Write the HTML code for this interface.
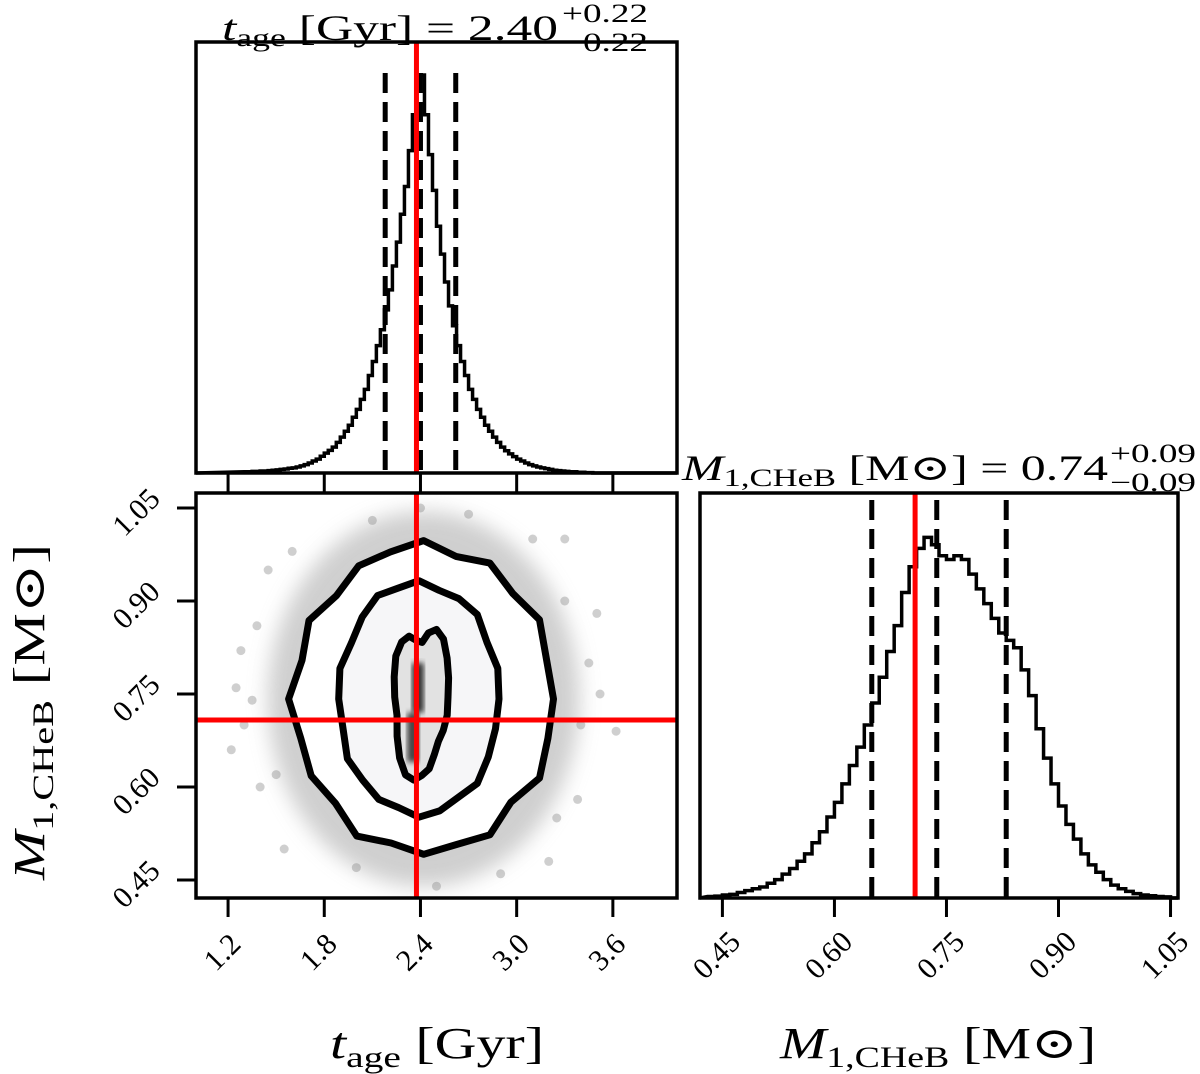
<!DOCTYPE html>
<html><head><meta charset="utf-8">
<style>
html,body{margin:0;padding:0;background:#fff;}
svg{display:block;font-family:"Liberation Serif","DejaVu Serif",serif;}
</style></head>
<body>
<svg id="fig" width="1200" height="1074" viewBox="0 0 1200 1074" xmlns="http://www.w3.org/2000/svg">
<defs>
<filter id="blur" x="-20%" y="-20%" width="140%" height="140%"><feGaussianBlur stdDeviation="10"/></filter>
<filter id="blur2"><feGaussianBlur stdDeviation="3"/></filter>
<clipPath id="clipL"><rect x="196" y="493" width="481" height="405"/></clipPath>
</defs>
<g id="root"></g>
</svg>
<script>
// ---- data ----
const ageBinStart = 1.30, ageBinWidth = 0.025;
const ageHist = [0.003,0.003,0.004,0.004,0.005,0.005,0.006,0.007,0.008,0.009,0.01,0.012,0.013,0.015,0.018,0.021,0.025,0.03,0.035,0.042,0.05,0.057,0.065,0.077,0.09,0.105,0.12,0.14,0.16,0.185,0.21,0.245,0.28,0.32,0.36,0.41,0.46,0.52,0.58,0.65,0.72,0.81,0.90,0.97,1.0,0.90,0.80,0.71,0.62,0.55,0.48,0.42,0.37,0.32,0.28,0.245,0.21,0.185,0.16,0.14,0.12,0.105,0.09,0.077,0.065,0.056,0.048,0.041,0.035,0.03,0.025,0.021,0.018,0.015,0.013,0.011,0.009,0.007,0.006,0.005,0.004,0.003,0.003,0.002,0.002,0.001,0.001];
const massBinStart = 0.43, massBinWidth = 0.01;
const massHist = [0.004,0.005,0.008,0.01,0.015,0.02,0.025,0.03,0.04,0.05,0.065,0.08,0.10,0.12,0.15,0.18,0.22,0.26,0.31,0.36,0.41,0.47,0.53,0.60,0.67,0.74,0.83,0.90,0.95,0.98,0.96,0.93,0.92,0.93,0.92,0.88,0.84,0.80,0.76,0.72,0.70,0.68,0.62,0.55,0.46,0.38,0.31,0.25,0.20,0.16,0.12,0.09,0.07,0.05,0.035,0.025,0.018,0.012,0.008,0.006,0.004,0.003];
const ageQuantiles = [2.18, 2.40, 2.62];
const massQuantiles = [0.65, 0.737, 0.83];
const truthAge = 2.375, truthMass = 0.708;
const ageTicks = [1.2, 1.8, 2.4, 3.0, 3.6];
const ageTickLabels = ["1.2","1.8","2.4","3.0","3.6"];
const massTicks = [0.45, 0.60, 0.75, 0.90, 1.05];
const massTickLabels = ["0.45","0.60","0.75","0.90","1.05"];
const contourCx = [2.42, 2.39, 2.41];
const contourCy = [0.742, 0.742, 0.745];
const contourRx = [0.81, 0.50, 0.18];
const contourRy = [0.248, 0.187, 0.126];
const wobbleOuter = [1.0,0.98,1.03,0.97,1.02,0.96,1.03,0.99,1.0,0.95,1.02,0.97,1.04,0.98,1.0,0.96,1.03,0.97,1.01,0.98,1.02,0.95,1.03,0.99];
const wobbleMid = [1.0,1.02,0.98,1.03,1.0,0.97,1.02,0.99,1.03,1.0,0.97,1.02,1.0,0.98,1.03,0.99,1.0,0.97,1.02,1.0,0.98,1.03,1.0,0.99];
const wobbleInner = [0.9,0.95,1.0,1.05,1.0,0.85,0.7,0.75,0.9,1.0,1.05,1.0,0.95,0.9,1.0,1.1,1.15,1.1,1.0,0.95,0.85,0.8,0.85,0.9];
const outX = [1.35,1.22,1.28,3.45,3.62,3.38,1.45,3.30,2.4,2.5,1.55,3.2,1.4,3.5,2.1,2.7,1.3,1.5,3.4,3.3,1.6,3.1,2.0,2.9,1.25,1.38,3.52,3.25];
const outY = [0.74,0.66,0.82,0.80,0.69,0.58,0.95,1.00,1.05,0.44,0.50,0.48,0.60,0.88,1.03,1.04,0.70,0.62,0.70,0.90,0.98,1.00,0.47,0.46,0.76,0.86,0.75,0.55];

// ---- axes ----
const NS="http://www.w3.org/2000/svg";
const root=document.getElementById('root');
const ax = v => 196 + (v-1.0)/3.0*481;
const my = v => 880 - (v-0.45)*620;
const mx = v => 700 + (v-0.42)/0.64*478;
const topY = f => 473 - f*398;
const brY = f => 898 - f*368;
function el(tag,attrs,parent){const e=document.createElementNS(NS,tag);for(const k in attrs)e.setAttribute(k,attrs[k]);(parent||root).appendChild(e);return e;}

// ---- top panel ----
const gTop=el('g',{});


let d='M'+ax(1.0)+','+topY(0);
ageHist.forEach((v,i)=>{const x0=ax(ageBinStart+i*ageBinWidth),x1=ax(ageBinStart+(i+1)*ageBinWidth);d+=' L'+x0+','+topY(v)+' L'+x1+','+topY(v);});
d+=' L'+ax(ageBinStart+ageHist.length*ageBinWidth)+','+topY(0)+' L'+ax(4.0)+','+topY(0);
const hp=el('path',{d:d,fill:'none',stroke:'#000','stroke-width':3.5},gTop);


ageQuantiles.forEach(q=>{const l=el('line',{x1:ax(q),x2:ax(q),y1:73,y2:473,stroke:'#000','stroke-width':5,'stroke-dasharray':'20,9'},gTop);

});
const rt=el('line',{x1:ax(truthAge),x2:ax(truthAge),y1:42,y2:473,stroke:'#ff0000','stroke-width':5},gTop);


el('rect',{x:196,y:42,width:481,height:431,fill:'none',stroke:'#000','stroke-width':3.5},gTop);
ageTicks.forEach(t=>el('line',{x1:ax(t),x2:ax(t),y1:473,y2:493,stroke:'#000','stroke-width':3},gTop));

// ---- bottom-left 2D panel ----
const g2=el('g',{'clip-path':'url(#clipL)'});


el('ellipse',{cx:ax(contourCx[0]),cy:my(contourCy[0]),rx:(ax(contourRx[0]*1.2)-ax(0)),ry:(my(0)-my(contourRy[0]*1.22)),fill:'#a8a8a8',opacity:0.55,filter:'url(#blur)'},g2);
function contourPath(k,w){let p='';const n=w.length;for(let i=0;i<=n;i++){const a=i/n*2*Math.PI,m=w[i%n];const x=ax(contourCx[k]+contourRx[k]*m*Math.cos(a)),y=my(contourCy[k]+contourRy[k]*m*Math.sin(a));p+=(i?' L':'M')+x.toFixed(1)+','+y.toFixed(1);}return p+'Z';}
el('path',{d:contourPath(0,wobbleOuter),fill:'#fff'},g2);
el('path',{d:contourPath(1,wobbleMid),fill:'#f6f6f8'},g2);
el('path',{d:contourPath(2,wobbleInner),fill:'#e2e2e2'},g2);
el('rect',{x:ax(2.39)-7,y:my(0.80),width:12,height:my(0.72)-my(0.80),fill:'#333',filter:'url(#blur2)'},g2);
el('rect',{x:ax(2.36)-7,y:my(0.72),width:12,height:my(0.64)-my(0.72),fill:'#444',filter:'url(#blur2)'},g2);
outX.forEach((x,i)=>{const c=el('circle',{cx:ax(x),cy:my(outY[i]),r:4.5,fill:'#888',opacity:0.4},g2);

});
[[0,wobbleOuter],[1,wobbleMid],[2,wobbleInner]].forEach(([k,w])=>{const c=el('path',{d:contourPath(k,w),fill:'none',stroke:'#000','stroke-width':7,'stroke-linejoin':'round'},g2);

});
const rv=el('line',{x1:ax(truthAge),x2:ax(truthAge),y1:493,y2:898,stroke:'#ff0000','stroke-width':5},g2);


const rh=el('line',{x1:196,x2:677,y1:my(truthMass),y2:my(truthMass),stroke:'#ff0000','stroke-width':5},g2);


el('rect',{x:196,y:493,width:481,height:405,fill:'none',stroke:'#000','stroke-width':3.5});
ageTicks.forEach((t,i)=>{el('line',{x1:ax(t),x2:ax(t),y1:898,y2:917,stroke:'#000','stroke-width':3});
const cx=ax(t)-6, cy=952;
const tx=el('text',{x:cx,y:cy+10,'font-size':30,'text-anchor':'middle',transform:'rotate(-45 '+cx+' '+cy+')'});tx.textContent=ageTickLabels[i];

});
massTicks.forEach((t,i)=>{el('line',{x1:177,x2:196,y1:my(t),y2:my(t),stroke:'#000','stroke-width':3});
const cx=136, cy=my(t)+4;
const tx=el('text',{x:cx,y:cy+10,'font-size':30,'text-anchor':'middle',transform:'rotate(-45 '+cx+' '+cy+')'});tx.textContent=massTickLabels[i];

});

// ---- bottom-right panel ----
const gR=el('g',{});


d='M700,'+brY(0);
massHist.forEach((v,i)=>{const x0=mx(massBinStart+i*massBinWidth),x1=mx(massBinStart+(i+1)*massBinWidth);d+=' L'+x0+','+brY(v)+' L'+x1+','+brY(v);});
d+=' L'+mx(massBinStart+massHist.length*massBinWidth)+','+brY(0)+' L1178,'+brY(0);
const mp=el('path',{d:d,fill:'none',stroke:'#000','stroke-width':3.5},gR);


massQuantiles.forEach(q=>{const l=el('line',{x1:mx(q),x2:mx(q),y1:500,y2:898,stroke:'#000','stroke-width':5,'stroke-dasharray':'20,9'},gR);

});
const rm=el('line',{x1:mx(truthMass),x2:mx(truthMass),y1:493,y2:898,stroke:'#ff0000','stroke-width':5},gR);


el('rect',{x:700,y:493,width:478,height:405,fill:'none',stroke:'#000','stroke-width':3.5},gR);
massTicks.forEach((t,i)=>{el('line',{x1:mx(t),x2:mx(t),y1:898,y2:917,stroke:'#000','stroke-width':3},gR);
const cx=mx(t)-6, cy=955;
const tx=el('text',{x:cx,y:cy+10,'font-size':30,'text-anchor':'middle',transform:'rotate(-45 '+cx+' '+cy+')'},gR);tx.textContent=massTickLabels[i];

});
</script>
<svg style="position:absolute;left:0;top:0" width="1200" height="1074" xmlns="http://www.w3.org/2000/svg" font-family="Liberation Serif, DejaVu Serif, serif">
<g>
<text x="222" y="40" font-size="36" textLength="336" lengthAdjust="spacingAndGlyphs"><tspan font-style="italic">t</tspan><tspan font-size="25" dy="6">age</tspan><tspan dy="-6"> [Gyr] = 2.40</tspan></text>
<text x="562" y="22" font-size="26" textLength="86" lengthAdjust="spacingAndGlyphs">+0.22</text>
<text x="562" y="51" font-size="26" textLength="86" lengthAdjust="spacingAndGlyphs">−0.22</text>
</g>
<g>
<text x="682" y="480" font-size="36" textLength="426" lengthAdjust="spacingAndGlyphs"><tspan font-style="italic">M</tspan><tspan font-size="25" dy="6">1,CHeB</tspan><tspan dy="-6"> [M⊙] = 0.74</tspan></text>
<text x="1110" y="462" font-size="26" textLength="86" lengthAdjust="spacingAndGlyphs">+0.09</text>
<text x="1110" y="491" font-size="26" textLength="86" lengthAdjust="spacingAndGlyphs">−0.09</text>
</g>
<text x="330" y="1058" font-size="44" textLength="214" lengthAdjust="spacingAndGlyphs"><tspan font-style="italic">t</tspan><tspan font-size="30" dy="9">age</tspan><tspan dy="-9"> [Gyr]</tspan></text>
<text x="780" y="1058" font-size="44" textLength="316" lengthAdjust="spacingAndGlyphs"><tspan font-style="italic">M</tspan><tspan font-size="30" dy="9">1,CHeB</tspan><tspan dy="-9"> [M⊙]</tspan></text>
<text transform="translate(44 880) rotate(-90)" font-size="44" textLength="336" lengthAdjust="spacingAndGlyphs"><tspan font-style="italic">M</tspan><tspan font-size="30" dy="9">1,CHeB</tspan><tspan dy="-9"> [M⊙]</tspan></text>
</svg>
</body></html>
